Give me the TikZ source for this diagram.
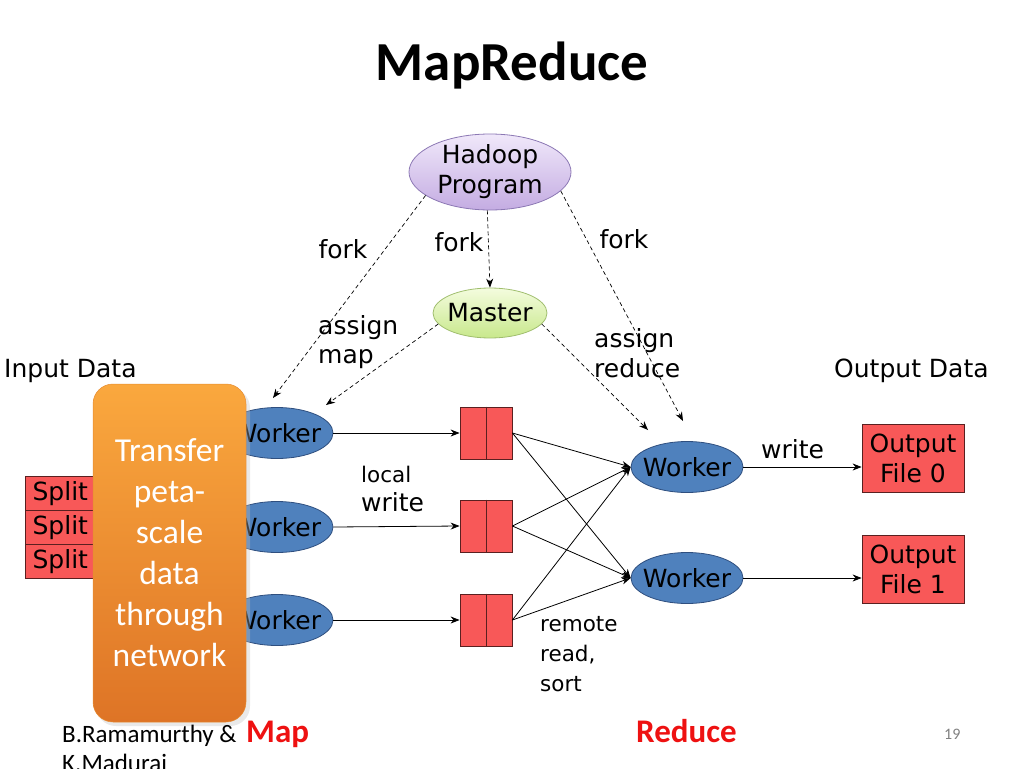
\documentclass[tikz,border=0pt]{standalone}
\usepackage{fontspec}
\setmainfont{DejaVu Sans}
\newfontfamily\calibri{Carlito}
\usetikzlibrary{shapes.geometric,arrows.meta}
\definecolor{wblue}{HTML}{4F81BD}
\definecolor{wborder}{HTML}{2F4F7F}
\definecolor{bred}{HTML}{F85858}
\definecolor{bborder}{HTML}{5A2020}
\definecolor{titlered}{HTML}{EE1111}
\begin{document}
\begin{tikzpicture}[x=1pt,y=-1pt,
  lbl/.style={font=\fontsize{25}{30}\selectfont, inner sep=0},
  small/.style={font=\fontsize{21.5}{30}\selectfont, inner sep=0},
  worker/.style={ellipse, draw=wborder, line width=0.8pt, fill=wblue, minimum width=112, minimum height=51, inner sep=0, font=\fontsize{25}{30}\selectfont},
  buf/.style={rectangle, draw=bborder, line width=0.8pt, fill=bred, minimum width=52, minimum height=52, inner sep=0},
  split/.style={rectangle, draw=bborder, line width=0.6pt, fill=bred, minimum width=70, minimum height=34, inner sep=0, font=\fontsize{25}{30}\selectfont},
  outf/.style={rectangle, draw=bborder, line width=0.8pt, fill=bred, minimum width=102, minimum height=68, inner sep=0, align=center, font=\fontsize{25}{30}\selectfont},
  dashar/.style={dashed, dash pattern=on 4pt off 3pt, line width=0.7pt, -{Stealth[length=9pt,width=7pt]}},
  solar/.style={line width=0.8pt, -{Stealth[length=9pt,width=7pt]}}
]
\useasboundingbox (0,0) rectangle (1024,768);

% title
\node[anchor=base, inner sep=0, font=\calibri\bfseries\fontsize{55}{60}\selectfont] (title) at (512,80) {MapReduce};

% Hadoop program & master
\node[ellipse, draw={rgb,255:red,140;green,120;blue,180}, line width=0.8pt, top color={rgb,255:red,240;green,232;blue,250}, bottom color={rgb,255:red,196;green,172;blue,226}, minimum width=162, minimum height=76, inner sep=0] (hp) at (490,172) {};
\node[align=center, inner sep=0, font=\fontsize{25}{30}\selectfont] (hpt) at (hp.center) {Hadoop\\Program};
\node[ellipse, draw={rgb,255:red,160;green,190;blue,110}, line width=0.8pt, top color={rgb,255:red,244;green,252;blue,222}, bottom color={rgb,255:red,200;green,232;blue,140}, minimum width=114, minimum height=50, inner sep=0, font=\fontsize{25}{30}\selectfont] (m) at (490,313) {\makebox[0pt]{Master}};

% split boxes
\node[split, anchor=north west] (s1) at (25,476) {Split\hspace{12pt}};
\node[split, anchor=north west] (s2) at (25,510) {Split\hspace{12pt}};
\node[split, anchor=north west] (s3) at (25,544) {Split\hspace{12pt}};

% map workers
\node[worker] (w1) at (277,433) {\makebox[0pt]{Worker}};
\node[worker] (w2) at (277,527) {\makebox[0pt]{Worker}};
\node[worker] (w3) at (277,620) {\makebox[0pt]{Worker}};

% orange transfer box
\fill[black!25, opacity=0.35, rounded corners=20] (96,388) rectangle (250,726);
\node[rectangle, rounded corners=20, minimum width=153, minimum height=338, inner sep=0,
  top color={rgb,255:red,250;green,168;blue,62}, bottom color={rgb,255:red,222;green,116;blue,38},
  draw={rgb,255:red,230;green,140;blue,50}, line width=0.5pt,
  text=white, align=center, font=\calibri\fontsize{33.5}{41}\selectfont] (tr) at (169.5,553)
  {Transfer\\peta-\\scale\\data\\through\\network};

% buffers
\node[buf] (b1) at (486,433) {};
\node[buf] (b2) at (486,526) {};
\node[buf] (b3) at (486,620) {};
\foreach \b in {b1,b2,b3} \draw[bborder, line width=0.8pt] (\b.north) -- (\b.south);

% reduce workers
\node[worker] (r1) at (687,467) {\makebox[0pt]{Worker}};
\node[worker] (r2) at (687,578) {\makebox[0pt]{Worker}};

% output files
\node[outf] (o1) at (913,458) {Output\\File 0};
\node[outf] (o2) at (913,569) {Output\\File 1};

% coordinates for arrow ends
\coordinate (e1) at (273,398);
\coordinate (e2) at (326,405);
\coordinate (e3) at (648,430);
\coordinate (e4) at (683,421);

% dashed connectors
\draw[dashar] (hp.-94) -- (m.north);
\draw[dashar] (hp.200) -- (e1);
\draw[dashar] (hp.-15) -- (e4);
\draw[dashar] (m.192) -- (e2);
\draw[dashar] (m.-12) -- (e3);

% worker -> buffer
\draw[solar] (w1.east) -- (b1.west);
\draw[solar] (w2.east) -- (b2.west);
\draw[solar] (w3.east) -- (b3.west);

% buffer -> reduce workers
\foreach \b in {b1,b2,b3} {
  \draw[solar] (\b.east) -- (r1.west);
  \draw[solar] (\b.east) -- (r2.west);
}

% reduce -> output
\draw[solar] (r1.east) -- (r1.east -| o1.west);
\draw[solar] (r2.east) -- (r2.east -| o2.west);

% labels
\node[lbl, anchor=base west] (lin) at (4,377) {Input Data};
\node[lbl, anchor=base west] (lout) at (834,377) {Output Data};
\node[lbl, anchor=base] (f1) at (343,258) {fork};
\node[lbl, anchor=base] (f2) at (459,251) {fork};
\node[lbl, anchor=base] (f3) at (624,248) {fork};
\node[lbl, anchor=base west] (am1) at (318,334) {assign};
\node[lbl, anchor=base west] (am2) at (318,363) {map};
\node[lbl, anchor=base west] (ar1) at (594,347) {assign};
\node[lbl, anchor=base west] (ar2) at (594,377) {reduce};
\node[small, anchor=base west] (lw1) at (361,482) {local};
\node[lbl, anchor=base west] (lw2) at (361,511) {write};
\node[lbl, anchor=base west] (wr) at (761,458) {write};
\node[small, anchor=base west] (rr1) at (540,631) {remote};
\node[small, anchor=base west] (rr2) at (540,661) {read,};
\node[small, anchor=base west] (rr3) at (540,691) {sort};

% footer
\node[anchor=base west, inner sep=0, font=\calibri\fontsize{25}{29}\selectfont] (auth) at (62,742) {B.Ramamurthy \&};
\node[anchor=base west, inner sep=0, font=\calibri\fontsize{25}{29}\selectfont] (auth2) at (62,771) {K.Madurai};
\node[anchor=base west, inner sep=0, text=titlered, font=\calibri\bfseries\fontsize{33}{40}\selectfont] (map) at (246,742) {Map};
\node[anchor=base west, inner sep=0, text=titlered, font=\calibri\bfseries\fontsize{33}{40}\selectfont] (red) at (636,742) {Reduce};
\node[anchor=base west, inner sep=0, text=gray, font=\calibri\fontsize{16}{20}\selectfont] (pg) at (944,739) {19};
\end{tikzpicture}
\end{document}
